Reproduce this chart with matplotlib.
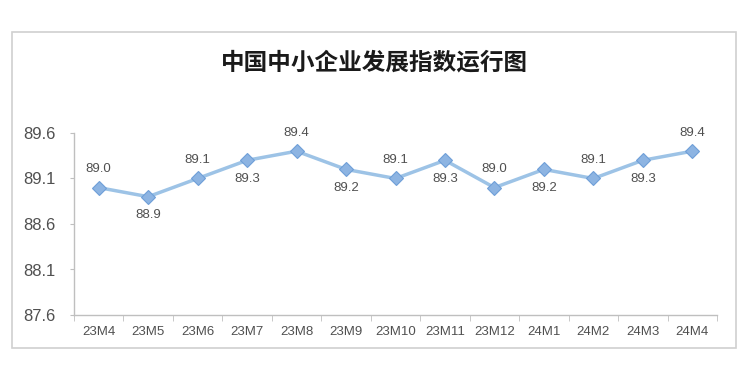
import matplotlib
matplotlib.use("Agg")
import matplotlib.pyplot as plt
from matplotlib.patches import Rectangle

plt.rcParams['font.family'] = ['Liberation Sans', 'Noto Sans CJK SC', 'DejaVu Sans']

title = "中国中小企业发展指数运行图"
categories = ["23M4", "23M5", "23M6", "23M7", "23M8", "23M9", "23M10",
              "23M11", "23M12", "24M1", "24M2", "24M3", "24M4"]
values = [89.0, 88.9, 89.1, 89.3, 89.4, 89.2, 89.1, 89.3, 89.0, 89.2, 89.1, 89.3, 89.4]
label_above = [True, False, True, False, True, False, True, False, True, False, True, False, True]
yticks = [87.6, 88.1, 88.6, 89.1, 89.6]

W, H = 756, 380
fig = plt.figure(figsize=(W / 100, H / 100), dpi=100)

# outer border
fig.patches.append(Rectangle((12 / W, 1 - 348 / H), (736 - 12) / W, (348 - 32) / H,
                             transform=fig.transFigure, fill=False,
                             edgecolor='#d0d0d0', linewidth=1.2))

fig.text(375 / W, 1 - 62 / H, title, ha='center', va='center', fontsize=17,
         fontweight='bold', family=['Noto Sans CJK SC', 'DejaVu Sans'], color='#1a1a1a')

ax = fig.add_axes([74 / W, 1 - 315 / H, (717 - 74) / W, (315 - 133) / H])
x = list(range(len(categories)))
ax.plot(x, values, color='#9dc3e6', linewidth=2.5, marker='D', markersize=7,
        markerfacecolor='#8db4e2', markeredgecolor='#6f9fd8', markeredgewidth=0.8,
        clip_on=False, zorder=3)

for xi, v, up in zip(x, values, label_above):
    ax.annotate(f"{v:.1f}", (xi, v), xytext=(0, 9 if up else -9),
                textcoords='offset points', ha='center',
                va='bottom' if up else 'top', fontsize=9.5, color='#505050',
                annotation_clip=False)

ax.set_xlim(-0.5, len(categories) - 0.5)
ax.set_ylim(yticks[0], yticks[-1])
ax.set_yticks(yticks)
ax.set_yticklabels([f"{t:.1f}" for t in yticks], fontsize=12, color='#505050')
ax.set_xticks(x)
ax.set_xticklabels(categories, fontsize=9.5, color='#505050')
ax.set_xticks([i - 0.5 for i in range(len(categories) + 1)], minor=True)
ax.tick_params(axis='x', which='major', length=0, pad=8)
ax.tick_params(axis='x', which='minor', length=4, color='#bfbfbf', direction='out')
ax.tick_params(axis='y', length=3, color='#bfbfbf', direction='out', pad=10)
for s in ['top', 'right']:
    ax.spines[s].set_visible(False)
for s in ['left', 'bottom']:
    ax.spines[s].set_color('#bfbfbf')
    ax.spines[s].set_linewidth(1.0)

fig.savefig("out.png", dpi=100)
